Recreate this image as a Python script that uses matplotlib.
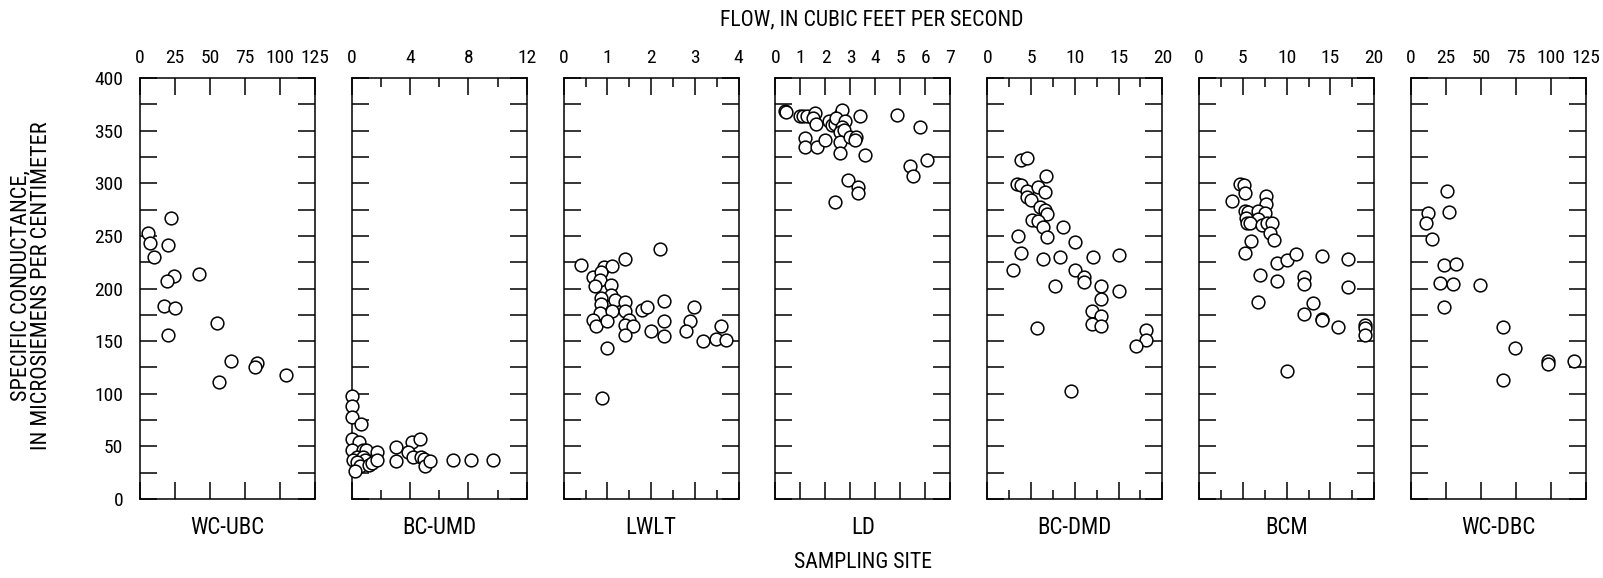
import matplotlib
matplotlib.use("Agg")
import matplotlib.pyplot as plt
from matplotlib.ticker import MultipleLocator
from matplotlib import font_manager

names = {f.name for f in font_manager.fontManager.ttflist}
cands = ['Liberation Sans Narrow', 'Roboto Condensed', 'Open Sans Condensed', 'DejaVu Sans Condensed']
fam = [c for c in cands if c in names]
plt.rcParams['font.family'] = fam + ['DejaVu Sans']
plt.rcParams['font.stretch'] = 'condensed'

sites = ["WC-UBC", "BC-UMD", "LWLT", "LD", "BC-DMD", "BCM", "WC-DBC"]

wcubc_flow = [6.0, 6.9, 10.2, 22.4, 20.2, 42.4, 24.3, 19.0, 16.9, 25.0, 20.2, 55.2, 65.0, 56.2, 83.8, 81.9, 104.3]
wcubc_sc = [253, 243, 230, 267, 241, 214, 212, 207, 183, 181, 156, 167, 131, 111, 129, 125, 118]

bcumd_flow = [0.0, 0.0, 0.0, 0.6, 0.0, 0.46, 0.0, 0.8, 0.96, 1.72, 0.34, 0.1, 0.8, 0.87, 0.34, 0.53, 0.23,
              1.15, 1.38, 1.72, 3.03, 3.03, 4.13, 3.83, 4.2, 4.7, 4.77, 4.97, 5.0, 5.39, 6.95, 8.14, 9.7]
bcumd_sc = [98, 88, 78, 71, 57, 54, 47, 47, 47, 45, 40, 37, 40, 37, 35, 31, 27,
            32, 34, 37, 49, 36, 54, 45, 40, 57, 40, 38, 31, 36, 37, 37, 37]

lwlt_flow = [0.40, 0.93, 1.10, 1.40, 2.20, 0.66, 0.85, 0.83, 0.72, 1.08, 1.09, 0.85, 1.17, 0.85, 1.40, 0.84,
             1.10, 1.40, 1.78, 1.90, 2.29, 2.99, 0.68, 0.73, 0.98, 1.49, 1.40, 1.59, 1.40, 2.00, 2.29, 2.29,
             2.89, 2.79, 3.19, 3.48, 3.59, 3.70, 1.00, 0.88]
lwlt_sc = [222, 220, 221, 228, 238, 211, 216, 208, 202, 203, 194, 191, 189, 185, 187, 177,
           179, 179, 180, 182, 188, 182, 170, 164, 169, 170, 165, 164, 156, 160, 169, 155,
           169, 160, 150, 152, 164, 151, 143, 96]

ld_flow = [0.37, 0.44, 0.97, 1.11, 1.28, 1.57, 1.50, 1.61, 1.17, 1.20, 1.67, 1.97, 2.13, 2.27, 2.37, 2.57,
           2.68, 2.43, 2.77, 2.67, 2.57, 2.75, 2.60, 2.60, 2.97, 3.21, 3.17, 3.37, 3.60, 2.91, 3.31, 3.31,
           2.37, 4.88, 5.77, 5.39, 5.51, 6.08]
ld_sc = [369, 368, 364, 364, 364, 367, 362, 356, 343, 334, 334, 341, 359, 355, 356, 365,
         370, 362, 359, 353, 349, 351, 339, 329, 344, 344, 341, 364, 327, 303, 296, 291,
         282, 365, 353, 316, 307, 322]

bcdmd_flow = [3.82, 4.59, 6.73, 3.37, 3.82, 4.59, 5.77, 6.54, 4.59, 5.0, 6.04, 6.6, 6.8, 5.08, 5.77, 6.42,
              8.7, 3.56, 6.8, 10.06, 3.86, 6.42, 8.26, 12.05, 15.0, 2.98, 9.98, 11.0, 11.0, 7.76, 13.0,
              15.0, 13.0, 11.97, 13.0, 11.97, 13.0, 5.66, 18.1, 18.1, 17.0, 9.6]
bcdmd_sc = [322, 324, 307, 299, 298, 293, 296, 292, 287, 284, 277, 275, 271, 265, 264, 258,
            258, 250, 249, 244, 234, 228, 230, 230, 232, 218, 218, 211, 206, 202, 202,
            198, 190, 179, 174, 166, 164, 162, 161, 151, 145, 103]

bcm_flow = [4.69, 5.14, 5.26, 3.73, 7.62, 7.62, 5.26, 5.56, 6.67, 7.54, 5.33, 6.7, 5.45, 5.83, 7.24, 7.75,
            8.3, 8.11, 8.57, 5.98, 5.22, 8.88, 10.02, 11.05, 14.0, 16.99, 6.97, 8.95, 12.04, 12.04, 16.99,
            6.78, 12.99, 12.0, 14.0, 14.0, 15.92, 19.0, 19.0, 19.0, 10.02]
bcm_sc = [299, 298, 291, 283, 288, 280, 274, 273, 274, 272, 267, 266, 262, 262, 260, 262,
          262, 253, 246, 245, 234, 224, 227, 233, 231, 228, 213, 207, 211, 204, 201,
          187, 186, 176, 171, 170, 163, 165, 162, 156, 122]

wcdbc_flow = [26.0, 27.0, 11.9, 10.7, 15.0, 23.6, 32.0, 21.0, 30.1, 49.2, 23.6, 65.9, 74.2, 98.1, 98.1, 116.2, 65.9]
wcdbc_sc = [293, 273, 272, 262, 247, 222, 223, 205, 204, 203, 182, 163, 143, 131, 128, 131, 113]

flows = [wcubc_flow, bcumd_flow, lwlt_flow, ld_flow, bcdmd_flow, bcm_flow, wcdbc_flow]
conds = [wcubc_sc, bcumd_sc, lwlt_sc, ld_sc, bcdmd_sc, bcm_sc, wcdbc_sc]

x_max = [125, 12, 4, 7, 20, 20, 125]
x_major = [25, 4, 1, 1, 5, 5, 25]
x_minor = [None, 2, 0.5, None, 2.5, 2.5, None]

W, H = 1603, 578
fig = plt.figure(figsize=(W / 100, H / 100), dpi=100)

left0, pw, gap = 140, 175, 36.83
top, bottom = 78, 499

for i in range(7):
    l = left0 + i * (pw + gap)
    ax = fig.add_axes([l / W, 1 - bottom / H, pw / W, (bottom - top) / H])
    ax.scatter(flows[i], conds[i], s=84, facecolors='white', edgecolors='black',
               linewidths=1.1, zorder=3, clip_on=False)
    ax.set_xlim(0, x_max[i])
    ax.set_ylim(0, 400)
    ax.xaxis.set_major_locator(MultipleLocator(x_major[i]))
    if x_minor[i]:
        ax.xaxis.set_minor_locator(MultipleLocator(x_minor[i]))
    ax.yaxis.set_major_locator(MultipleLocator(50))
    ax.yaxis.set_minor_locator(MultipleLocator(25))
    ax.tick_params(axis='x', which='major', direction='in', top=True, bottom=True,
                   labeltop=True, labelbottom=False, length=12, width=1.1, pad=8, labelsize=14)
    ax.tick_params(axis='x', which='minor', direction='in', top=True, bottom=True,
                   labeltop=False, labelbottom=False, length=6.5, width=1.1)
    ax.tick_params(axis='y', which='major', direction='in', left=True, right=True,
                   labelleft=(i == 0), labelright=False, length=12, width=1.1, pad=12, labelsize=14)
    ax.tick_params(axis='y', which='minor', direction='in', left=True, right=True,
                   labelleft=False, labelright=False, length=12, width=1.1)
    for sp in ax.spines.values():
        sp.set_linewidth(1.1)
    fig.text((l + pw / 2) / W, 1 - 528 / H, sites[i], ha='center', va='center', fontsize=16.5)

fig.text(872 / W, 1 - 20 / H, "FLOW, IN CUBIC FEET PER SECOND", ha='center', va='center', fontsize=15.7)
fig.text(863 / W, 1 - 563 / H, "SAMPLING SITE", ha='center', va='center', fontsize=15.7)
fig.text(21 / W, 1 - 286 / H, "SPECIFIC CONDUCTANCE,", rotation=90, ha='center', va='center', fontsize=16)
fig.text(42 / W, 1 - 286 / H, "IN MICROSIEMENS PER CENTIMETER", rotation=90, ha='center', va='center', fontsize=16)

fig.savefig("out.png", dpi=100, facecolor='white')
